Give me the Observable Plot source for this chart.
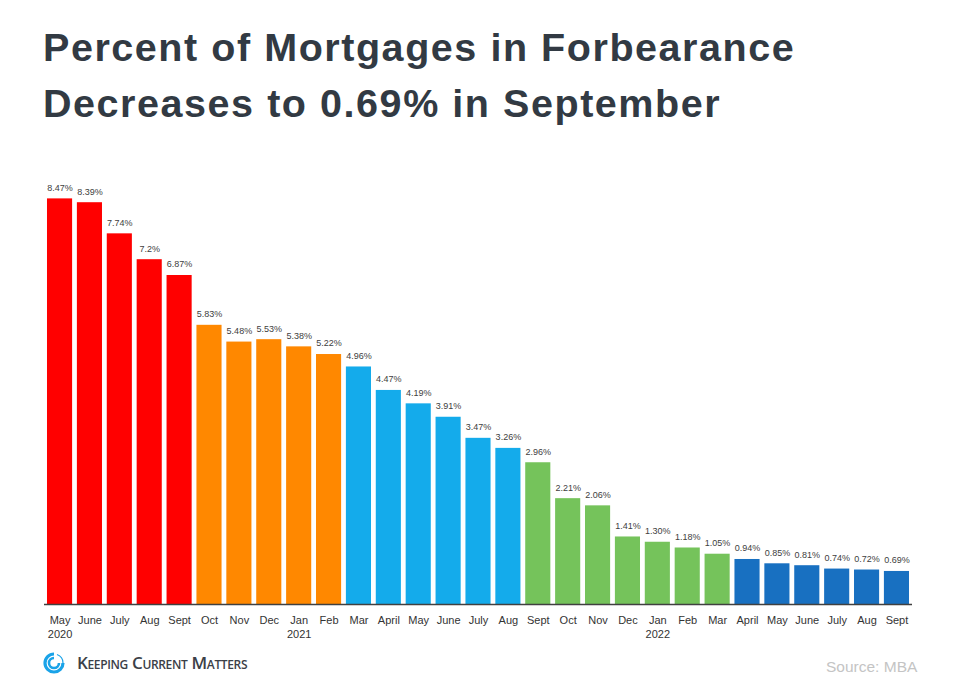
<!DOCTYPE html>
<html>
<head>
<meta charset="utf-8">
<script src="https://cdn.jsdelivr.net/npm/d3@7"></script>
<script src="https://cdn.jsdelivr.net/npm/@observablehq/plot@0.6"></script>
<style>
  html, body { margin: 0; padding: 0; background: #fff; overflow: hidden; }
  body { width: 960px; height: 675px; position: relative; font-family: "Liberation Sans", Arial, sans-serif; }
  #title { position: absolute; left: 43px; top: 19px; font-size: 39.5px; letter-spacing: 1.55px; font-weight: bold; color: #323a43; line-height: 56px; margin: 0; white-space: nowrap; }
  #chart { position: absolute; left: 0; top: 150px; }
  #logo { position: absolute; left: 43px; top: 652px; display: flex; align-items: center; }
  #logo span { font-family: "Open Sans", sans-serif; font-weight: 600; font-variant: small-caps; font-size: 17px; color: #3b4047; margin-left: 12px; letter-spacing: -0.35px; line-height: 20px; }
  #source { position: absolute; left: 826px; top: 659px; font-size: 15.5px; line-height: 15px; color: #c4c4c4; white-space: nowrap; }
</style>
</head>
<body>
<div id="title">Percent of Mortgages in Forbearance<br>Decreases to 0.69% in September</div>
<div id="chart"></div>
<div id="logo">
  <svg width="22" height="22" viewBox="0 0 22 22">
    <path d="M11 2 A9 9 0 1 0 20 11" fill="none" stroke="#1aa3e8" stroke-width="3.2"/>
    <path d="M11 6 A5 5 0 1 0 16 11" fill="none" stroke="#1aa3e8" stroke-width="2.6"/>
    <path d="M20 11 A9 9 0 0 0 14 2.5" fill="none" stroke="#1aa3e8" stroke-width="1.2"/>
  </svg>
  <span>Keeping Current Matters</span>
</div>
<div id="source">Source: MBA</div>
<script>
const months = ["May","June","July","Aug","Sept","Oct","Nov","Dec","Jan","Feb","Mar","April","May","June","July","Aug","Sept","Oct","Nov","Dec","Jan","Feb","Mar","April","May","June","July","Aug","Sept"];
const years = ["2020","","","","","","","","2021","","","","","","","","","","","","2022","","","","","","","",""];
const values = [8.47,8.39,7.74,7.2,6.87,5.83,5.48,5.53,5.38,5.22,4.96,4.47,4.19,3.91,3.47,3.26,2.96,2.21,2.06,1.41,1.30,1.18,1.05,0.94,0.85,0.81,0.74,0.72,0.69];
const valueLabels = ["8.47%","8.39%","7.74%","7.2%","6.87%","5.83%","5.48%","5.53%","5.38%","5.22%","4.96%","4.47%","4.19%","3.91%","3.47%","3.26%","2.96%","2.21%","2.06%","1.41%","1.30%","1.18%","1.05%","0.94%","0.85%","0.81%","0.74%","0.72%","0.69%"];
const groups = ["a","a","a","a","a","b","b","b","b","b","c","c","c","c","c","c","d","d","d","d","d","d","d","e","e","e","e","e","e"];
const groupNames = ["a","b","c","d","e"];
const groupColors = ["#ff0000","#ff8800","#14abeb","#75c35b","#1870c1"];

const data = values.map((v, i) => ({i, v, label: valueLabels[i], g: groups[i]}));

const chart = Plot.plot({
  width: 960,
  height: 500,
  marginLeft: 44,
  marginRight: 48,
  marginTop: 23,
  marginBottom: 46,
  style: {fontFamily: "'Liberation Sans', Arial, sans-serif", background: "transparent"},
  x: {type: "band", domain: d3.range(values.length), paddingInner: 0.16, paddingOuter: 0.1, round: false, label: null},
  y: {domain: [0, 9], axis: null},
  color: {domain: groupNames, range: groupColors},
  marks: [
    Plot.barY(data, {x: "i", y: "v", fill: "g"}),
    Plot.ruleY([0], {stroke: "#404040", strokeWidth: 1.5}),
    Plot.text(data, {x: "i", y: "v", text: "label", dy: -11, fontSize: 9, fill: "#404040"}),
    Plot.axisX({tickSize: 0, tickPadding: 10, fontSize: 11, fill: "#333", lineHeight: 1.25, tickFormat: i => years[i] ? months[i] + "\n" + years[i] : months[i], label: null})
  ]
});
document.getElementById("chart").append(chart);
</script>
</body>
</html>
